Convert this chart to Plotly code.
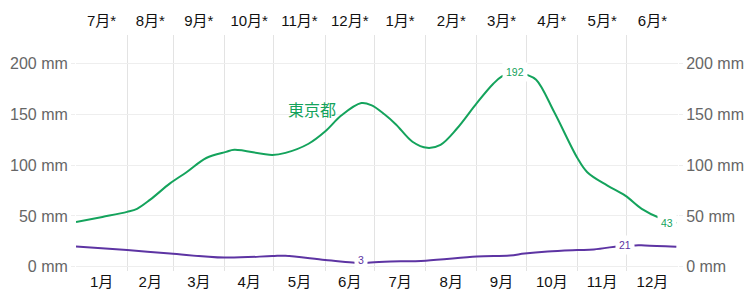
import plotly.graph_objects as go

# ---- data ----
tokyo_dates = ["2023-01-01", "2023-01-17", "2023-02-01", "2023-02-07", "2023-02-15", "2023-02-27",
               "2023-03-09", "2023-03-21", "2023-04-02", "2023-04-07", "2023-04-30", "2023-05-08",
               "2023-05-22", "2023-06-01", "2023-06-11", "2023-06-23", "2023-06-29", "2023-07-07",
               "2023-07-14", "2023-07-24", "2023-08-02", "2023-08-10", "2023-08-20", "2023-09-01",
               "2023-09-11", "2023-09-16", "2023-09-24", "2023-10-01", "2023-10-07", "2023-10-18",
               "2023-11-01", "2023-11-07", "2023-11-19", "2023-11-30", "2023-12-10", "2023-12-21",
               "2023-12-31"]
tokyo_mm = [44, 49, 54, 57, 66, 82,
            93, 107, 113, 115, 110, 112,
            121, 133, 149, 161, 159, 150,
            140, 123, 117, 120, 136, 161,
            180, 187, 192, 189, 184, 152,
            107, 93, 80, 70, 57, 48,
            43]

other_dates = ["2023-01-01", "2023-02-01", "2023-02-27", "2023-04-01", "2023-04-30", "2023-05-08",
               "2023-06-01", "2023-06-19", "2023-06-23", "2023-06-27", "2023-07-07", "2023-08-01",
               "2023-09-01", "2023-09-21", "2023-09-30", "2023-10-14", "2023-11-01", "2023-11-11",
               "2023-11-30", "2023-12-06", "2023-12-12", "2023-12-31"]
other_mm = [20, 16.4, 13, 9, 10.5, 10.8,
            6.6, 3.9, 3, 4, 5, 6,
            10, 11, 13, 15, 16.4, 17,
            21, 21, 21, 19.7]

month_mid = ["2023-01-16 12:00", "2023-02-15", "2023-03-16 12:00", "2023-04-16", "2023-05-16 12:00",
             "2023-06-16", "2023-07-16 12:00", "2023-08-16 12:00", "2023-09-16", "2023-10-16 12:00",
             "2023-11-16", "2023-12-16 12:00"]
month_start = ["2023-02-01", "2023-03-01", "2023-04-01", "2023-05-01", "2023-06-01", "2023-07-01",
               "2023-08-01", "2023-09-01", "2023-10-01", "2023-11-01", "2023-12-01"]
bottom_labels = ["1月", "2月", "3月", "4月", "5月", "6月", "7月", "8月", "9月", "10月", "11月", "12月"]
top_labels = ["7月*", "8月*", "9月*", "10月*", "11月*", "12月*", "1月*", "2月*", "3月*", "4月*", "5月*", "6月*"]
y_ticks = [0, 50, 100, 150, 200]
y_labels = [f"{v} mm" for v in y_ticks]

GREEN = "#14a35c"
PURPLE = "#5d34a3"
FONT = "Liberation Sans, Noto Sans CJK JP, sans-serif"

fig = go.Figure()
fig.add_trace(go.Scatter(x=tokyo_dates, y=tokyo_mm, mode="lines",
                         line=dict(color=GREEN, width=2, shape="spline", smoothing=1.0),
                         showlegend=False, hoverinfo="skip"))
fig.add_trace(go.Scatter(x=other_dates, y=other_mm, mode="lines",
                         line=dict(color=PURPLE, width=2, shape="spline", smoothing=1.0),
                         showlegend=False, hoverinfo="skip"))
# invisible trace for the secondary axes
fig.add_trace(go.Scatter(x=[tokyo_dates[0]], y=[tokyo_mm[0]], xaxis="x2", yaxis="y2",
                         mode="markers", marker=dict(opacity=0), showlegend=False, hoverinfo="skip"))

# value labels
imax = tokyo_mm.index(max(tokyo_mm))
imin = other_mm.index(min(other_mm))
omax = other_mm.index(max(other_mm))
anns = [
    dict(x=tokyo_dates[imax], y=tokyo_mm[imax], text=str(tokyo_mm[imax]), font=dict(color=GREEN, size=10.5)),
    dict(x=tokyo_dates[-1], y=tokyo_mm[-1], text=str(tokyo_mm[-1]), font=dict(color=GREEN, size=10.5), xshift=-9),
    dict(x=other_dates[imin], y=other_mm[imin], text=str(other_mm[imin]), font=dict(color=PURPLE, size=10.5), yshift=4),
    dict(x=other_dates[omax], y=other_mm[omax], text=str(other_mm[omax]), font=dict(color=PURPLE, size=10.5)),
]
for a in anns:
    a.update(showarrow=False, bgcolor="white", borderpad=3, xref="x", yref="y")
anns.append(dict(x="2023-05-24", y=154, text="東京都", showarrow=False, xref="x", yref="y",
                 font=dict(color=GREEN, size=16)))

axis_font = dict(family=FONT, size=16, color="#666666")
fig.update_layout(
    width=753, height=293,
    margin=dict(l=76, r=75, t=35, b=22),
    paper_bgcolor="white", plot_bgcolor="white",
    font=dict(family=FONT),
    annotations=anns,
    xaxis=dict(range=["2023-01-01", "2024-01-01"], tickmode="array", tickvals=month_mid,
               ticktext=bottom_labels, showgrid=False, zeroline=False, showline=False,
               automargin=False,
               tickfont=dict(family=FONT, size=15, color="#111111"), ticks="",
               minor=dict(tickmode="array", tickvals=month_start, showgrid=True,
                          gridcolor="#e3e3e3", gridwidth=1, ticks="")),
    xaxis2=dict(overlaying="x", side="top", matches="x", tickmode="array", tickvals=month_mid,
                ticktext=top_labels, showgrid=False, zeroline=False, showline=False,
                automargin=False, ticklabelstandoff=5,
                tickfont=dict(family=FONT, size=15, color="#111111"), ticks=""),
    yaxis=dict(range=[-4.2, 228], tickmode="array", tickvals=y_ticks, ticktext=y_labels,
               showgrid=True, gridcolor="#eeeeee", gridwidth=1, zeroline=False, automargin=False,
               ticks="outside", ticklen=4, tickcolor="#eeeeee", tickfont=axis_font),
    yaxis2=dict(overlaying="y", side="right", matches="y", tickmode="array", tickvals=y_ticks,
                ticktext=y_labels, showgrid=False, zeroline=False, automargin=False,
                ticks="outside", ticklen=4, tickcolor="#eeeeee", tickfont=axis_font),
)

fig.write_html("out.html")
